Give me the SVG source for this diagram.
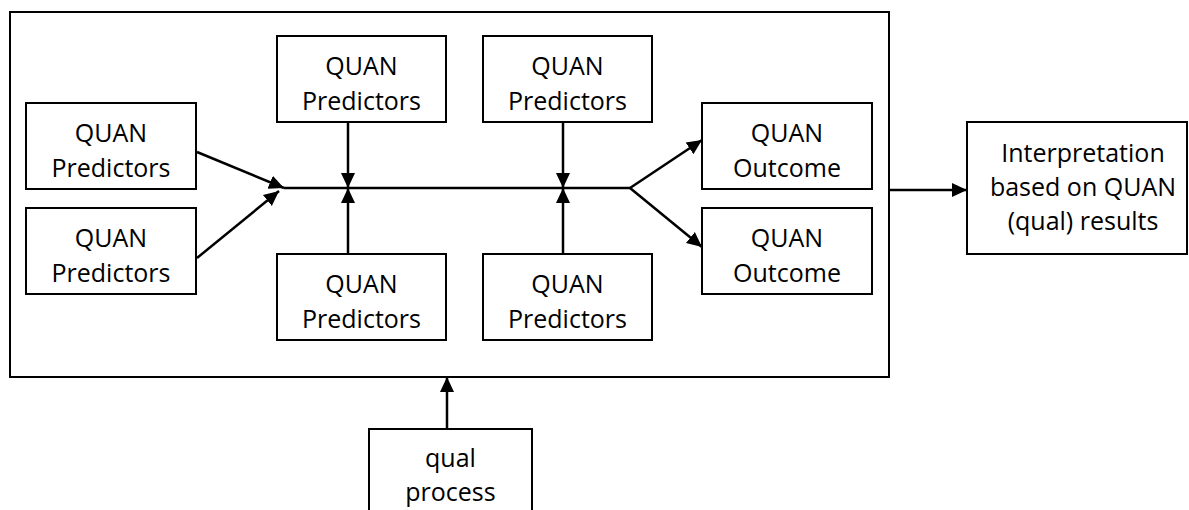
<svg xmlns="http://www.w3.org/2000/svg" width="1189" height="510" viewBox="0 0 1189 510">
<style>
.box{fill:#fff;stroke:#000;stroke-width:2}
.t{font-family:"Open Sans","Liberation Sans",sans-serif;font-size:25px;fill:#000;text-anchor:middle}
.c{fill:none;stroke:#000;stroke-width:2.5}
</style>
<defs>
<marker id="ah" markerUnits="userSpaceOnUse" markerWidth="16" markerHeight="16" viewBox="0 0 16 16" refX="15" refY="8" orient="auto">
<path d="M0,1 L15,8 L0,15 Z" fill="#000"/>
</marker>
</defs>
<g id="frame"><rect class="box" x="10" y="12" width="879" height="365"/></g>
<g id="p1"><rect class="box" x="26" y="103" width="170" height="86"/><text class="t" x="111" y="142">QUAN</text><text class="t" x="111" y="177">Predictors</text></g>
<g id="p2"><rect class="box" x="26" y="208" width="170" height="86"/><text class="t" x="111" y="247">QUAN</text><text class="t" x="111" y="282">Predictors</text></g>
<g id="p3"><rect class="box" x="277" y="36" width="169" height="86"/><text class="t" x="361.5" y="75">QUAN</text><text class="t" x="361.5" y="110">Predictors</text></g>
<g id="p4"><rect class="box" x="483" y="36" width="169" height="86"/><text class="t" x="567.5" y="75">QUAN</text><text class="t" x="567.5" y="110">Predictors</text></g>
<g id="p5"><rect class="box" x="277" y="254" width="169" height="86"/><text class="t" x="361.5" y="293">QUAN</text><text class="t" x="361.5" y="328">Predictors</text></g>
<g id="p6"><rect class="box" x="483" y="254" width="169" height="86"/><text class="t" x="567.5" y="293">QUAN</text><text class="t" x="567.5" y="328">Predictors</text></g>
<g id="o1"><rect class="box" x="702" y="103" width="170" height="86"/><text class="t" x="787" y="142">QUAN</text><text class="t" x="787" y="177">Outcome</text></g>
<g id="o2"><rect class="box" x="702" y="208" width="170" height="86"/><text class="t" x="787" y="247">QUAN</text><text class="t" x="787" y="282">Outcome</text></g>
<g id="interp"><rect class="box" x="967" y="122" width="220" height="132"/><text class="t" x="1083" y="162">Interpretation</text><text class="t" x="1083" y="196">based on QUAN</text><text class="t" x="1083" y="230">(qual) results</text></g>
<g id="qual"><rect class="box" x="369" y="429" width="163" height="100"/><text class="t" x="450.5" y="467">qual</text><text class="t" x="450.5" y="501">process</text></g>
<g id="connectors">
<line class="c" x1="284" y1="188" x2="630" y2="188"/>
<line class="c" x1="197" y1="152" x2="284" y2="188" marker-end="url(#ah)"/>
<line class="c" x1="197" y1="258" x2="279" y2="191" marker-end="url(#ah)"/>
<line class="c" x1="348" y1="122" x2="348" y2="188" marker-end="url(#ah)"/>
<line class="c" x1="348" y1="254" x2="348" y2="188" marker-end="url(#ah)"/>
<line class="c" x1="563" y1="122" x2="563" y2="188" marker-end="url(#ah)"/>
<line class="c" x1="563" y1="254" x2="563" y2="188" marker-end="url(#ah)"/>
<line class="c" x1="630" y1="188" x2="702" y2="140" marker-end="url(#ah)"/>
<line class="c" x1="630" y1="188" x2="702" y2="247" marker-end="url(#ah)"/>
<line class="c" x1="890" y1="190" x2="967" y2="190" marker-end="url(#ah)"/>
<line class="c" x1="447" y1="429" x2="447" y2="377" marker-end="url(#ah)"/>
</g>
</svg>
